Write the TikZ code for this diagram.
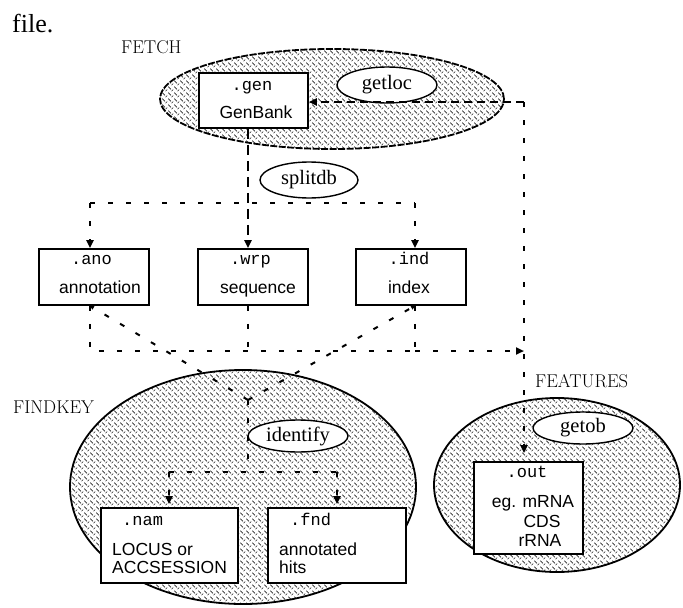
\documentclass[tikz,border=0pt]{standalone}
\usepackage{fontspec}
\newfontfamily\tms{Liberation Serif}
\newfontfamily\arl{Liberation Sans}
\newfontfamily\cour{Liberation Mono}
\usetikzlibrary{shapes.geometric,arrows.meta,patterns,calc}
\pgfdeclarepatternformonly{plate}{\pgfqpoint{-0.5pt}{-0.5pt}}{\pgfqpoint{6.5pt}{6.5pt}}{\pgfqpoint{6pt}{6pt}}{%
 \pgfsetlinewidth{0.6pt}%
 \pgfpathmoveto{\pgfqpoint{0.3pt}{5.3pt}}\pgfpathlineto{\pgfqpoint{3pt}{2.6pt}}%
 \pgfpathmoveto{\pgfqpoint{3.6pt}{0.8pt}}\pgfpathlineto{\pgfqpoint{5.2pt}{2.4pt}}%
 \pgfusepath{stroke}}
\begin{document}
\begin{tikzpicture}[x=1pt,y=-1pt,
  bigell/.style={ellipse, draw, line width=1.8pt, pattern=plate, pattern color=black!85, inner sep=0},
  smallell/.style={ellipse, draw, line width=1.4pt, fill=white, inner sep=0, minimum width=100pt, minimum height=34pt, font=\tms\fontsize{20.5}{24}\selectfont},
  filebox/.style={draw, line width=1.6pt, fill=white, inner sep=0},
  mono/.style={font=\cour\fontsize{17}{20}\selectfont, inner sep=0},
  sans/.style={font=\arl\fontsize{17.5}{21}\selectfont, inner sep=0},
  grp/.style={font=\fontsize{18.5}{22}\selectfont, inner sep=0, anchor=base west},
  flow/.style={line width=2pt, dash pattern=on 5pt off 13pt},
  longdash/.style={line width=2pt, dash pattern=on 10pt off 6pt},
  middash/.style={line width=1.8pt, dash pattern=on 8pt off 5pt},
  arr/.style={-{Triangle[length=8pt,width=7pt]}},
  tinyarr/.style={-{Triangle[length=4pt,width=4pt]}}
]
\useasboundingbox (0,0) rectangle (683,608);

% group ellipses
\node[bigell, minimum width=344pt, minimum height=100pt, dash pattern=on 7pt off 1.5pt] (fetch) at (332,99) {};
\node[bigell, minimum width=346pt, minimum height=234pt] (findkey) at (243,487) {};
\node[bigell, minimum width=246pt, minimum height=174pt] (features) at (557,485) {};

% group labels
\node[grp] (lfetch) at (121,53) {FETCH};
\node[grp] (lfind) at (13,413) {FINDKEY};
\node[grp] (lfeat) at (535,387) {FEATURES};
\node[font=\tms\fontsize{26}{30}\selectfont, anchor=base west, inner sep=0] (file) at (12,32) {file.};

% boxes
\node[filebox, minimum width=109pt, minimum height=55pt] (gen) at (253.5,100.5) {};
\node[filebox, minimum width=110pt, minimum height=56pt] (ano) at (94,277) {};
\node[filebox, minimum width=110pt, minimum height=56pt] (wrp) at (253,277) {};
\node[filebox, minimum width=110pt, minimum height=56pt] (ind) at (411,277) {};
\node[filebox, minimum width=137pt, minimum height=75pt] (nam) at (169.5,545.5) {};
\node[filebox, minimum width=138pt, minimum height=75pt] (fnd) at (337,545.5) {};
\node[filebox, minimum width=109pt, minimum height=92pt] (out) at (528.5,508) {};

% process ellipses
\node[smallell, minimum height=36pt] (getloc) at (387,85) {getloc};
\node[smallell, minimum width=98pt, minimum height=36pt] (splitdb) at (309,180) {splitdb};
\node[smallell, minimum height=32pt] (identify) at (298,436) {identify};
\node[smallell, minimum height=32pt] (getob) at (583,428) {getob};

% coordinates
\coordinate (tap) at (524,102);
\coordinate (tl) at (90,203);
\coordinate (tr) at (415,203);
\coordinate (bl) at (90,351);
\coordinate (bm) at (248,351);
\coordinate (br) at (524,351);
\coordinate (br0) at (415,351);
\coordinate (conv) at (248,400);
\coordinate (hm) at (248,472);
\coordinate (hl) at (169,472);
\coordinate (hr) at (337,472);

% fetch -> genbank
\draw[middash, arr] (tap) -- (tap -| gen.east);
% feature output
\draw[flow, arr, shorten >=8pt] (tap) -- (tap |- out.north);

% splitdb
\draw[longdash, arr] (gen.south -| bm) -- (wrp.north -| bm);
\draw[flow] (tl) -- (tr);
\draw[flow, arr] (tl) -- (tl |- ano.north);
\draw[flow, arr] (tr) -- (tr |- ind.north);

% to features
\draw[flow] (ano.south -| bl) -- (bl) -- (br0);
\draw[flow, arr] (br0) -- (br);
\draw[flow] (wrp.south -| bm) -- (bm);
\draw[flow] (ind.south -| br0) -- (br0);

% to findkey
\draw[flow, tinyarr] (conv) -- (ano.south -| bl);
\draw[flow, tinyarr] (conv) -- (ind.south -| br0);
\draw[flow] (conv) -- (hm);
\draw[flow] (hl) -- (hr);
\draw[flow, arr, shorten >=3pt] (hl) -- (hl |- nam.north);
\draw[flow, arr, shorten >=3pt] (hr) -- (hr |- fnd.north);

% box texts
\node[mono, anchor=base] (tgen) at (252,90) {.gen};
\node[sans, anchor=base] (tgen2) at (256,118) {GenBank};
\node[mono, anchor=base] (tano) at (91.5,264) {.ano};
\node[sans, anchor=base] (tano2) at (100,293) {annotation};
\node[mono, anchor=base] (twrp) at (250.5,264) {.wrp};
\node[sans, anchor=base] (twrp2) at (258,293) {sequence};
\node[mono, anchor=base] (tind) at (409,264) {.ind};
\node[sans, anchor=base] (tind2) at (409,293) {index};
\node[mono, anchor=base west] (tnam) at (122,525) {.nam};
\node[sans, anchor=base west] (tnam2) at (112,555) {LOCUS or};
\node[sans, anchor=base west] (tnam3) at (112,573) {ACCSESSION};
\node[mono, anchor=base west] (tfnd) at (290,525) {.fnd};
\node[sans, anchor=base west] (tfnd2) at (279,555) {annotated};
\node[sans, anchor=base west] (tfnd3) at (279,573) {hits};
\node[mono, anchor=base] (tout) at (527,477) {.out};
\node[sans, anchor=base] (tout2) at (533,507) {eg. mRNA};
\node[sans, anchor=base] (tout3) at (542,527) {CDS};
\node[sans, anchor=base] (tout4) at (540,546) {rRNA};
\end{tikzpicture}
\end{document}
